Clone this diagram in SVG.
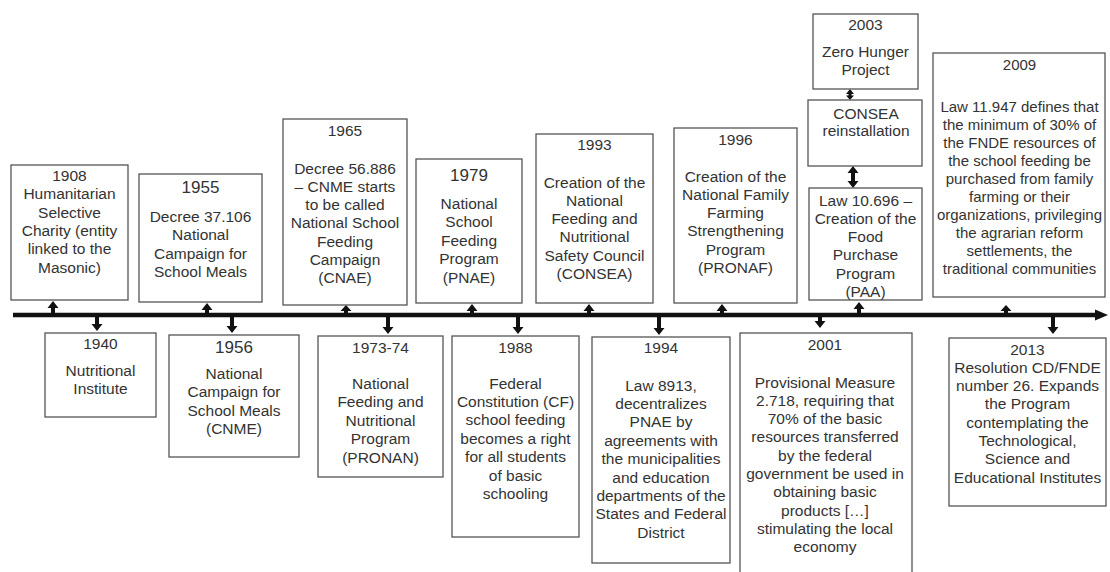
<svg xmlns="http://www.w3.org/2000/svg" width="1110" height="572" viewBox="0 0 1110 572">
<style>
.bg{fill:#fff}
.box{fill:#fff;stroke:#555;stroke-width:1.3}
.t{font-family:"Liberation Sans",Arial,sans-serif;font-size:15.5px;fill:#333;text-anchor:middle}
.y17{font-size:17px}
.s15{font-size:15px}
.arr{fill:#111}
.tl{stroke:#111;stroke-width:4.5;fill:none}
</style>
<rect class="bg" x="0" y="0" width="1110" height="572"/>

<g id="connectors">
  <line class="tl" x1="13" y1="315" x2="1098" y2="315"/>
  <polygon class="arr" points="1095,309.5 1108,315 1095,320.5"/>
  <!-- up arrows -->
  <path class="arr" d="M47.5,308 L53,301 L58.5,308 L55,308 L55,314 L51,314 L51,308 Z"/>
  <path class="arr" d="M201.5,310 L207,303 L212.5,310 L209,310 L209,314 L205,314 L205,310 Z"/>
  <path class="arr" d="M340.5,311 L346,305 L351.5,311 L348,311 L348,314 L344,314 L344,311 Z"/>
  <path class="arr" d="M466.5,311 L472,304 L477.5,311 L474,311 L474,314 L470,314 L470,311 Z"/>
  <path class="arr" d="M583.5,311 L589,304 L594.5,311 L591,311 L591,314 L587,314 L587,311 Z"/>
  <path class="arr" d="M716.5,311 L722,304 L727.5,311 L724,311 L724,314 L720,314 L720,311 Z"/>
  <path class="arr" d="M853.5,309 L859,302 L864.5,309 L861,309 L861,314 L857,314 L857,309 Z"/>
  <path class="arr" d="M1000.5,311 L1006,305 L1011.5,311 L1008,311 L1008,314 L1004,314 L1004,311 Z"/>
  <!-- down arrows -->
  <path class="arr" d="M95,316 L99,316 L99,324 L102.5,324 L97,331 L91.5,324 L95,324 Z"/>
  <path class="arr" d="M230,316 L234,316 L234,326 L237.5,326 L232,333 L226.5,326 L230,326 Z"/>
  <path class="arr" d="M386,316 L390,316 L390,327 L393.5,327 L388,334 L382.5,327 L386,327 Z"/>
  <path class="arr" d="M516,316 L520,316 L520,327 L523.5,327 L518,334 L512.5,327 L516,327 Z"/>
  <path class="arr" d="M657,316 L661,316 L661,328 L664.5,328 L659,335 L653.5,328 L657,328 Z"/>
  <path class="arr" d="M818,316 L822,316 L822,321 L825.5,321 L820,328 L814.5,321 L818,321 Z"/>
  <path class="arr" d="M1051,316 L1055,316 L1055,327 L1058.5,327 L1053,334 L1047.5,327 L1051,327 Z"/>
  <!-- double arrows in 2003 stack -->
  <path class="arr" d="M846,94 L850,89 L854,94 L851.5,94 L851.5,95.5 L854,95.5 L850,100 L846,95.5 L848.5,95.5 L848.5,94 Z"/>
  <path class="arr" d="M847.5,173 L853,166 L858.5,173 L855,173 L855,181 L858.5,181 L853,188 L847.5,181 L851,181 L851,173 Z"/>
</g>

<g id="n1908">
  <rect class="box" x="11" y="165" width="117" height="135"/>
  <text class="t"><tspan x="69.5" y="181">1908</tspan><tspan x="69.5" y="199.3">Humanitarian</tspan><tspan x="69.5" y="217.6">Selective</tspan><tspan x="69.5" y="235.9">Charity (entity</tspan><tspan x="69.5" y="254.2">linked to the</tspan><tspan x="69.5" y="272.5">Masonic)</tspan></text>
</g>

<g id="n1955">
  <rect class="box" x="139" y="174" width="123" height="128"/>
  <text class="t"><tspan class="y17" x="200.5" y="192.5">1955</tspan><tspan x="200.5" y="222">Decree 37.106</tspan><tspan x="200.5" y="240.3">National</tspan><tspan x="200.5" y="258.6">Campaign for</tspan><tspan x="200.5" y="276.9">School Meals</tspan></text>
</g>

<g id="n1965">
  <rect class="box" x="283" y="119" width="124" height="186"/>
  <text class="t"><tspan x="345" y="136">1965</tspan><tspan x="345" y="173.5">Decree 56.886</tspan><tspan x="345" y="191.8">– CNME starts</tspan><tspan x="345" y="210.1">to be called</tspan><tspan x="345" y="228.4">National School</tspan><tspan x="345" y="246.7">Feeding</tspan><tspan x="345" y="265">Campaign</tspan><tspan x="345" y="283.3">(CNAE)</tspan></text>
</g>

<g id="n1979">
  <rect class="box" x="416" y="159" width="106" height="144"/>
  <text class="t"><tspan class="y17" x="469" y="181">1979</tspan><tspan x="469" y="208.5">National</tspan><tspan x="469" y="227">School</tspan><tspan x="469" y="245.5">Feeding</tspan><tspan x="469" y="264">Program</tspan><tspan x="469" y="282.5">(PNAE)</tspan></text>
</g>

<g id="n1993">
  <rect class="box" x="536" y="134" width="117" height="169"/>
  <text class="t"><tspan x="594.5" y="149.5">1993</tspan><tspan x="594.5" y="187.5">Creation of the</tspan><tspan x="594.5" y="205.8">National</tspan><tspan x="594.5" y="224.1">Feeding and</tspan><tspan x="594.5" y="242.4">Nutritional</tspan><tspan x="594.5" y="260.7">Safety Council</tspan><tspan x="594.5" y="279">(CONSEA)</tspan></text>
</g>

<g id="n1996">
  <rect class="box" x="674" y="128" width="123" height="175"/>
  <text class="t"><tspan x="735.5" y="144.5">1996</tspan><tspan x="735.5" y="181.5">Creation of the</tspan><tspan x="735.5" y="199.8">National Family</tspan><tspan x="735.5" y="218.1">Farming</tspan><tspan x="735.5" y="236.4">Strengthening</tspan><tspan x="735.5" y="254.7">Program</tspan><tspan x="735.5" y="273">(PRONAF)</tspan></text>
</g>

<g id="n2003">
  <rect class="box" x="813" y="14" width="105" height="75"/>
  <text class="t"><tspan x="865.5" y="29.5">2003</tspan><tspan x="865.5" y="56.5">Zero Hunger</tspan><tspan x="865.5" y="74.5">Project</tspan></text>
</g>

<g id="nConsea">
  <rect class="box" x="808" y="100" width="114" height="66"/>
  <text class="t"><tspan x="866" y="118.5">CONSEA</tspan><tspan x="866" y="136">reinstallation</tspan></text>
</g>

<g id="nPAA">
  <rect class="box" x="809" y="188" width="113" height="112"/>
  <text class="t"><tspan x="865.5" y="205.5">Law 10.696 –</tspan><tspan x="865.5" y="223.8">Creation of the</tspan><tspan x="865.5" y="242.1">Food</tspan><tspan x="865.5" y="260.4">Purchase</tspan><tspan x="865.5" y="278.7">Program</tspan><tspan x="865.5" y="297">(PAA)</tspan></text>
</g>

<g id="n2009">
  <rect class="box" x="933" y="53" width="172" height="244"/>
  <text class="t s15"><tspan x="1019.5" y="69.5">2009</tspan><tspan x="1019.5" y="111.5">Law 11.947 defines that</tspan><tspan x="1019.5" y="129.5">the minimum of 30% of</tspan><tspan x="1019.5" y="147.5">the FNDE resources of</tspan><tspan x="1019.5" y="165.5">the school feeding be</tspan><tspan x="1019.5" y="183.5">purchased from family</tspan><tspan x="1019.5" y="201.5">farming or their</tspan><tspan x="1019.5" y="219.5">organizations, privileging</tspan><tspan x="1019.5" y="237.5">the agrarian reform</tspan><tspan x="1019.5" y="255.5">settlements, the</tspan><tspan x="1019.5" y="273.5">traditional communities</tspan></text>
</g>

<g id="n1940">
  <rect class="box" x="45" y="333" width="111" height="84"/>
  <text class="t"><tspan x="100.5" y="348.5">1940</tspan><tspan x="100.5" y="375.5">Nutritional</tspan><tspan x="100.5" y="393.5">Institute</tspan></text>
</g>

<g id="n1956">
  <rect class="box" x="169" y="335" width="130" height="122"/>
  <text class="t"><tspan class="y17" x="234" y="353">1956</tspan><tspan x="234" y="378.5">National</tspan><tspan x="234" y="397">Campaign for</tspan><tspan x="234" y="415.5">School Meals</tspan><tspan x="234" y="434">(CNME)</tspan></text>
</g>

<g id="n1973">
  <rect class="box" x="318" y="336" width="125" height="141"/>
  <text class="t"><tspan x="380.5" y="352.5">1973-74</tspan><tspan x="380.5" y="388.5">National</tspan><tspan x="380.5" y="407">Feeding and</tspan><tspan x="380.5" y="425.5">Nutritional</tspan><tspan x="380.5" y="444">Program</tspan><tspan x="380.5" y="462.5">(PRONAN)</tspan></text>
</g>

<g id="n1988">
  <rect class="box" x="452" y="336" width="127" height="201"/>
  <text class="t"><tspan x="515.5" y="352.5">1988</tspan><tspan x="515.5" y="388.5">Federal</tspan><tspan x="515.5" y="406.9">Constitution (CF)</tspan><tspan x="515.5" y="425.3">school feeding</tspan><tspan x="515.5" y="443.7">becomes a right</tspan><tspan x="515.5" y="462.1">for all students</tspan><tspan x="515.5" y="480.5">of basic</tspan><tspan x="515.5" y="498.9">schooling</tspan></text>
</g>

<g id="n1994">
  <rect class="box" x="592" y="337" width="138" height="226"/>
  <text class="t"><tspan x="661" y="352.5">1994</tspan><tspan x="661" y="390.5">Law 8913,</tspan><tspan x="661" y="408.9">decentralizes</tspan><tspan x="661" y="427.3">PNAE by</tspan><tspan x="661" y="445.7">agreements with</tspan><tspan x="661" y="464.1">the municipalities</tspan><tspan x="661" y="482.5">and education</tspan><tspan x="661" y="500.9">departments of the</tspan><tspan x="661" y="519.3">States and Federal</tspan><tspan x="661" y="537.7">District</tspan></text>
</g>

<g id="n2001">
  <rect class="box" x="740" y="333" width="172" height="250"/>
  <text class="t"><tspan x="825" y="349.5">2001</tspan><tspan x="825" y="387.5">Provisional Measure</tspan><tspan x="825" y="405.8">2.718, requiring that</tspan><tspan x="825" y="424.1">70% of the basic</tspan><tspan x="825" y="442.4">resources transferred</tspan><tspan x="825" y="460.7">by the federal</tspan><tspan x="825" y="479">government be used in</tspan><tspan x="825" y="497.3">obtaining basic</tspan><tspan x="825" y="515.6">products […]</tspan><tspan x="825" y="533.9">stimulating the local</tspan><tspan x="825" y="552.2">economy</tspan></text>
</g>

<g id="n2013">
  <rect class="box" x="949" y="338" width="157" height="168"/>
  <text class="t"><tspan x="1027.5" y="354.5">2013</tspan><tspan x="1027.5" y="372.8">Resolution CD/FNDE</tspan><tspan x="1027.5" y="391.1">number 26. Expands</tspan><tspan x="1027.5" y="409.4">the Program</tspan><tspan x="1027.5" y="427.7">contemplating the</tspan><tspan x="1027.5" y="446">Technological,</tspan><tspan x="1027.5" y="464.3">Science and</tspan><tspan x="1027.5" y="482.6">Educational Institutes</tspan></text>
</g>
</svg>
